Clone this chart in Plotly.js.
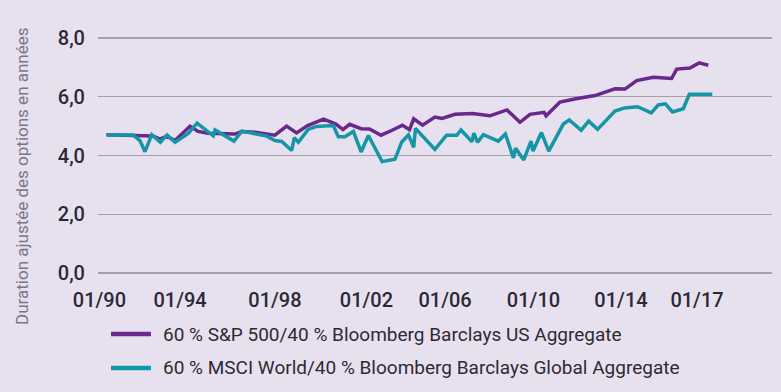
<!DOCTYPE html>
<html>
<head>
<meta charset="utf-8">
<script src="https://cdn.plot.ly/plotly-3.0.1.min.js"></script>
<style>html,body{margin:0;padding:0;background:#e7e1ef}</style>
</head>
<body>
<div id="chart" style="width:781px;height:392px"></div>
<script>
// Series 1: 60 % S&P 500/40 % Bloomberg Barclays US Aggregate (x in decimal years)
const usX = [1990.00,1991.29,1992.10,1992.42,1992.72,1993.10,1993.78,1994.14,1994.59,1995.81,1996.12,1996.72,1997.10,1997.62,1998.15,1998.60,1999.10,1999.82,2000.38,2000.70,2001.00,2001.52,2001.90,2002.42,2002.90,2003.39,2003.71,2003.90,2004.30,2004.86,2005.18,2005.77,2006.56,2007.35,2008.12,2008.71,2009.16,2009.80,2009.89,2010.52,2011.24,2012.10,2013.01,2013.46,2013.99,2014.74,2015.57,2015.80,2016.40,2016.82,2017.23];
const usY = [4.71,4.69,4.66,4.56,4.66,4.51,5.00,4.82,4.76,4.73,4.82,4.79,4.76,4.69,5.00,4.77,5.02,5.24,5.07,4.88,5.06,4.91,4.90,4.69,4.85,5.03,4.88,5.25,5.03,5.31,5.26,5.40,5.43,5.35,5.55,5.13,5.40,5.47,5.35,5.82,5.93,6.04,6.27,6.26,6.55,6.66,6.62,6.94,6.98,7.15,7.07];

// Series 2: 60 % MSCI World/40 % Bloomberg Barclays Global Aggregate
const worldX = [1990.00,1991.21,1991.52,1991.74,1992.05,1992.44,1992.74,1993.10,1993.70,1994.10,1994.83,1994.91,1995.77,1996.12,1996.72,1997.25,1997.62,1997.93,1998.38,1998.50,1998.68,1999.13,1999.51,2000.04,2000.26,2000.49,2000.79,2001.17,2001.52,2001.85,2002.47,2003.05,2003.36,2003.66,2003.90,2003.98,2004.86,2005.39,2005.85,2006.04,2006.54,2006.62,2006.79,2007.05,2007.73,2008.05,2008.41,2008.51,2008.88,2009.21,2009.30,2009.68,2010.01,2010.67,2010.94,2011.48,2011.82,2012.22,2013.01,2013.44,2014.03,2014.65,2014.97,2015.29,2015.61,2016.10,2016.37,2017.41];
const worldY = [4.70,4.70,4.50,4.13,4.71,4.45,4.70,4.45,4.75,5.10,4.67,4.87,4.49,4.83,4.74,4.66,4.51,4.48,4.17,4.61,4.45,4.89,4.99,5.02,5.02,4.64,4.64,4.82,4.12,4.68,3.79,3.87,4.46,4.70,4.28,4.92,4.21,4.69,4.69,4.87,4.47,4.76,4.45,4.71,4.49,4.73,3.92,4.25,3.85,4.49,4.15,4.78,4.15,5.07,5.21,4.86,5.17,4.89,5.51,5.62,5.66,5.45,5.72,5.76,5.48,5.59,6.08,6.08];

const xTickPos = [1989.68,1993.33,1997.62,2001.76,2005.32,2009.32,2013.28,2016.72];
const xTickText = ['01/90','01/94','01/98','01/02','01/06','01/10','01/14','01/17'];
const yTicks = [0,2,4,6,8];

const seriesNames = ['60 % S&P 500/40 % Bloomberg Barclays US Aggregate','60 % MSCI World/40 % Bloomberg Barclays Global Aggregate'];
const colors = ['#6a288c','#1596a7'];

const traces = [
  {x: usX, y: usY, type:'scatter', mode:'lines', name: seriesNames[0], line:{color:colors[0], width:3.5}, hoverinfo:'skip'},
  {x: worldX, y: worldY, type:'scatter', mode:'lines', name: seriesNames[1], line:{color:colors[1], width:3.5}, hoverinfo:'skip'}
];

const tickFont = {family:'Roboto, sans-serif', size:20, color:'#2b2934', weight:500};
const legFont = {family:'Roboto, sans-serif', size:19, color:'#2d2a33'};

const layout = {
  width:781, height:392,
  paper_bgcolor:'#e7e1ef', plot_bgcolor:'#e7e1ef',
  margin:{l:98, r:9, t:35, b:116},
  separators:', ',
  showlegend:false,
  xaxis:{range:[1989.615,2020.113], showgrid:false, zeroline:false, showline:false,
         tickmode:'array', tickvals:xTickPos, ticktext:xTickText, ticks:'',
         tickfont:tickFont, ticklabelstandoff:10, fixedrange:true},
  yaxis:{range:[-0.1,8.1], tickmode:'array', tickvals:yTicks, tickformat:'.1f',
         gridcolor:'#a4a0aa', gridwidth:1.5, zeroline:false, showline:false, ticks:'',
         tickfont:tickFont, ticklabelstandoff:12, fixedrange:true},
  shapes:[
    {type:'line', xref:'paper', yref:'paper', x0:0.0193, x1:0.0786, y0:-0.2407, y1:-0.2407, line:{color:colors[0], width:4.5}},
    {type:'line', xref:'paper', yref:'paper', x0:0.0193, x1:0.0786, y0:-0.3817, y1:-0.3817, line:{color:colors[1], width:4.5}}
  ],
  annotations:[
    {xref:'paper', yref:'paper', x:0.0935, y:-0.2407, xanchor:'left', yanchor:'middle', text:seriesNames[0], showarrow:false, font:legFont},
    {xref:'paper', yref:'paper', x:0.0935, y:-0.3817, xanchor:'left', yanchor:'middle', text:seriesNames[1], showarrow:false, font:legFont},
    {xref:'paper', yref:'paper', x:-0.1128, y:0.415, xanchor:'center', yanchor:'middle', textangle:-90,
     text:'Duration ajustée des options en années', showarrow:false,
     font:{family:'Roboto, sans-serif', size:17, color:'#7b7682'}}
  ]
};

Plotly.newPlot('chart', traces, layout, {displayModeBar:false, staticPlot:true});
</script>
</body>
</html>
